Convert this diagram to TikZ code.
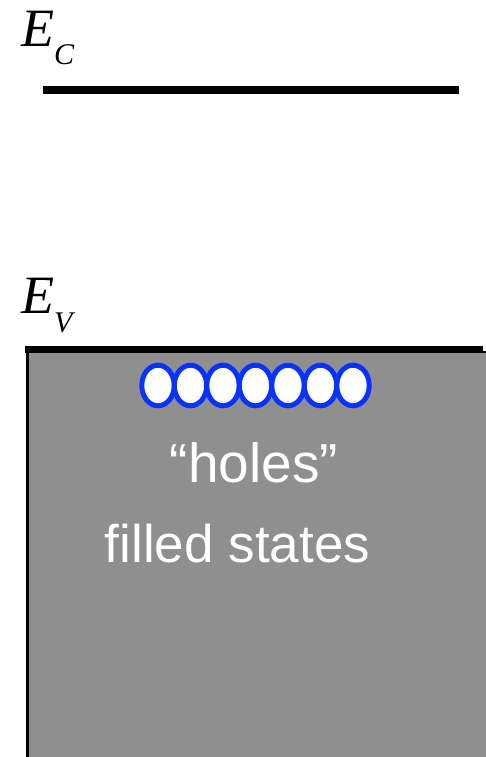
\documentclass[tikz,border=0pt]{standalone}
\usepackage{fontspec}
\setmainfont{Liberation Serif}
\newfontfamily\arialfont{Liberation Sans}
\definecolor{bandgray}{RGB}{143,143,143}
\definecolor{holeblue}{RGB}{10,50,255}
\begin{document}
\begin{tikzpicture}[x=1pt,y=-1pt,
  level/.style={line width=8pt},
  hole/.style={draw=holeblue,fill=white,line width=5pt,ellipse},
  whitetext/.style={text=white,inner sep=0pt,anchor=base,font=\arialfont},
  energylabel/.style={inner sep=0pt,anchor=base west,font=\fontsize{54}{54}\selectfont\itshape}]
\useasboundingbox (0,0) rectangle (486,757);
% valence band
\path[fill=bandgray,draw=black,line width=2.5pt] (27.5,352) rectangle (492,762);
\coordinate (ev1) at (25,349.5);
\coordinate (ev2) at (483,349.5);
\draw[line width=7pt] (ev1) -- (ev2);
\coordinate (ec1) at (43,90.5);
\coordinate (ec2) at (459,90.5);
\draw[level] (ec1) -- (ec2);
\node[energylabel] (EC) at (21,47) {E\raisebox{-18pt}{\fontsize{30}{30}\selectfont C}};
\node[energylabel] (EV) at (21,313) {E\raisebox{-19pt}{\fontsize{30}{30}\selectfont V}};
% holes
\foreach \i in {0,...,6} {
  \draw[draw=holeblue,fill=white,line width=5pt] (158+32.5*\i,385.5) ellipse [x radius=16.2, y radius=20.3];
}
\node[whitetext,font=\arialfont\fontsize{55}{55}\selectfont] (holes) at (254,482) {“holes”};
\node[whitetext,font=\arialfont\fontsize{53}{53}\selectfont] (filled) at (237.5,562) {filled states};
\end{tikzpicture}
\end{document}
